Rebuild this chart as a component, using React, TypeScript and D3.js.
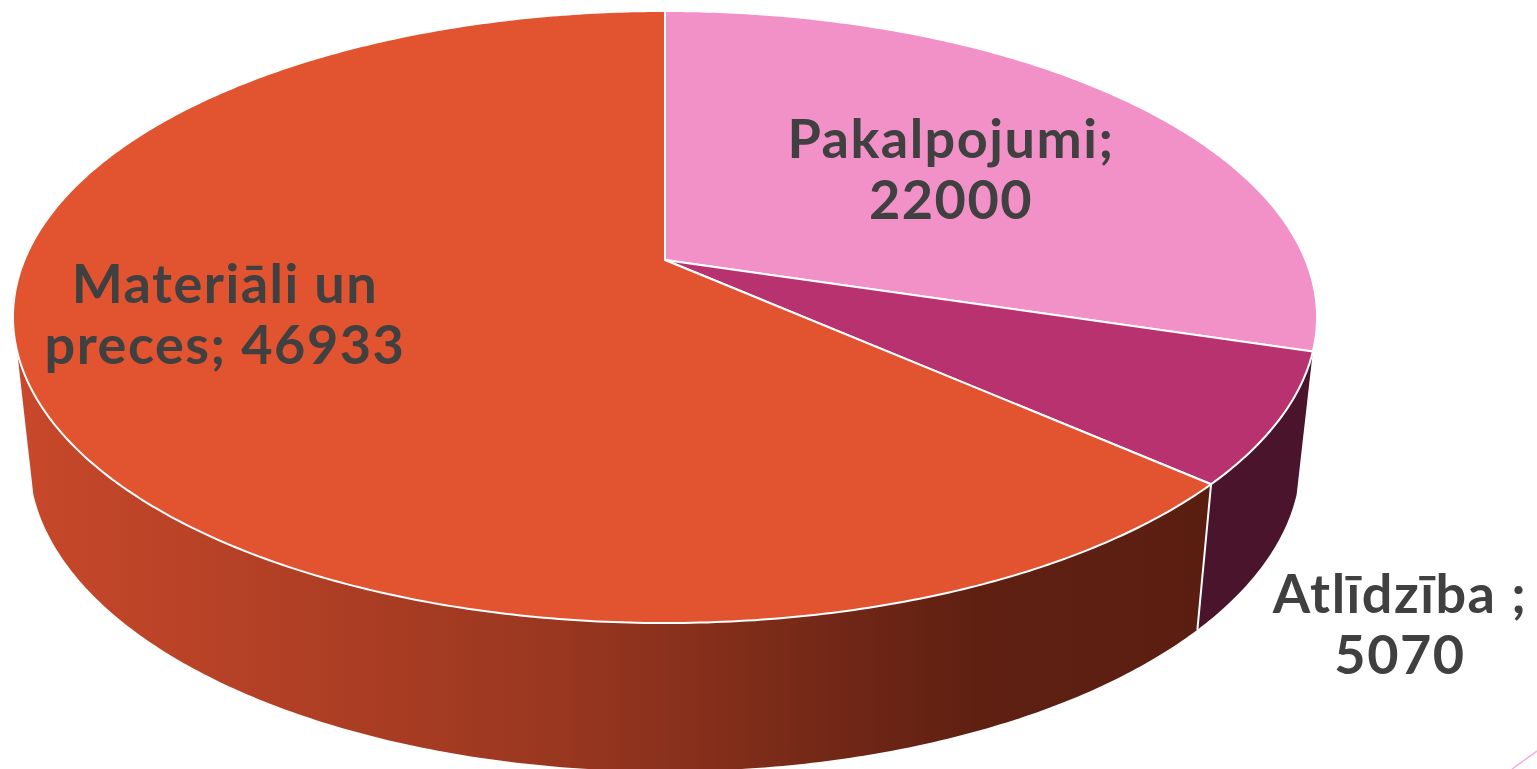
import React from "react";
import * as d3 from "d3";

const categories = ["Pakalpojumi", "Atlīdzība", "Materiāli un preces"];
const values = [22000, 5070, 46933];
const topColors = ["#F291C7", "#B7326E", "#E25330"];
const labelLines = [
  ["Pakalpojumi;", "22000"],
  ["Atlīdzība ;", "5070"],
  ["Materiāli un", "preces; 46933"],
];
const labelPos = [
  { x: 951, y: 158 },
  { x: 1400, y: 613 },
  { x: 225, y: 303 },
];

const W = 1537, H = 769;
const cx = 665, apexY = 260;
const A = 640.6, B = 295.4, K = 0.1863;
const depthX = 0.975, depthY = 1.02, bottomApexY = 401;
const silhouette = (107 * Math.PI) / 180;

type P = [number, number];
const proj = (t: number): P => {
  const w = 1 + K * Math.cos(t);
  return [A * Math.sin(t) / w, -B * Math.cos(t) / w];
};
const topPt = (t: number): P => { const [x, y] = proj(t); return [cx + x, apexY + y]; };
const botPt = (t: number): P => { const [x, y] = proj(t); return [cx + depthX * x, bottomApexY + depthY * y]; };
const samples = (a: number, b: number) => {
  const n = Math.max(2, Math.ceil(Math.abs(b - a) / 0.01));
  return d3.range(n + 1).map((i) => a + ((b - a) * i) / n);
};
const line = d3.line<P>();

const arcs = d3.pie<number>().sort(null).value((d) => d)(values);

export default function App() {
  const topPaths = arcs.map((a) =>
    line([[cx, apexY] as P, ...samples(a.startAngle, a.endAngle).map(topPt)])! + "Z"
  );
  const sideSpans: [number, number][] = [
    [arcs[1].startAngle, arcs[1].endAngle],
    [arcs[2].startAngle, 2 * Math.PI - silhouette],
  ];
  const sidePath = (a: number, b: number) => {
    const s = samples(a, b);
    return line([...s.map(topPt), ...s.slice().reverse().map(botPt)])! + "Z";
  };
  const seamAngle = arcs[1].endAngle;
  const seam = line([topPt(seamAngle), botPt(seamAngle)])!;
  return (
    <svg
      width={W}
      height={H}
      viewBox={`0 0 ${W} ${H}`}
      style={{ position: "fixed", left: 0, top: 0, display: "block", background: "#fff" }}
    >
      <defs>
        <linearGradient id="sideGrad" gradientUnits="userSpaceOnUse" x1={16} y1={0} x2={1213} y2={0}>
          <stop offset="0" stopColor="#C8482A" />
          <stop offset="0.45" stopColor="#9A3720" />
          <stop offset="0.8" stopColor="#5F2012" />
          <stop offset="1" stopColor="#5A1E10" />
        </linearGradient>
      </defs>
      <path d={sidePath(sideSpans[0][0], sideSpans[0][1])} fill="#4A142D" />
      <path d={sidePath(sideSpans[1][0], sideSpans[1][1])} fill="url(#sideGrad)" />
      <path d={seam} stroke="#fff" strokeWidth={2} fill="none" />
      {topPaths.map((d, i) => (
        <path key={categories[i]} d={d} fill={topColors[i]} stroke="#fff" strokeWidth={2} strokeLinejoin="round" />
      ))}
      {labelLines.map((lines, i) => (
        <text
          key={categories[i]}
          textAnchor="middle"
          fontFamily="Lato, sans-serif"
          fontWeight={700}
          fontSize={54}
          letterSpacing={1.5}
          fill="#404040"
        >
          {lines.map((l, j) => (
            <tspan key={j} x={labelPos[i].x} y={labelPos[i].y + j * 61}>{l}</tspan>
          ))}
        </text>
      ))}
      <path d="M1512,769L1537,751" stroke="#F4B0D8" strokeWidth={1.5} fill="none" />
    </svg>
  );
}
